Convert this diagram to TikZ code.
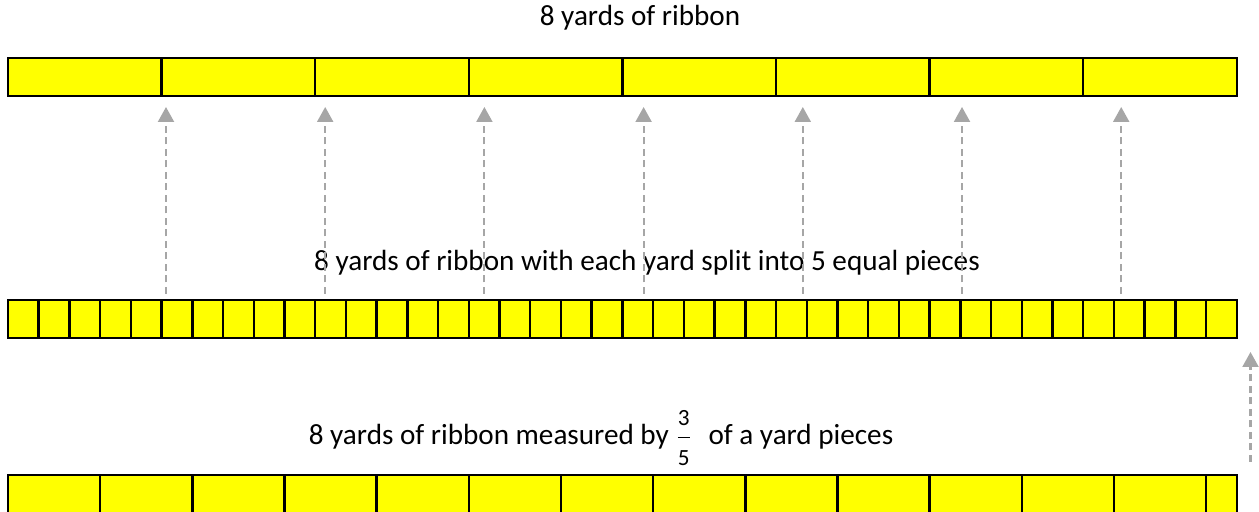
\documentclass[tikz,border=0pt]{standalone}
\usepackage{amsmath}
\usepackage{fontspec}
\setmainfont{Carlito}
\usetikzlibrary{arrows.meta,positioning}
\definecolor{ribbon}{HTML}{FFFF00}
\definecolor{arrowgrey}{HTML}{A6A6A6}
\tikzstyle{yard}=[draw=black, fill=ribbon, line width=0.7pt, inner sep=0,
                outer sep=0, minimum height=0.38cm]
\tikzstyle{title}=[inner sep=0, font=\fontsize{8.3}{10}\selectfont]
\tikzstyle{guide}=[draw=arrowgrey, line width=0.6pt,
                dash pattern=on 0.7mm off 0.45mm,
                -{Triangle[width=1.6mm,length=1.5mm]}]
\newcommand{\fracpart}[2]{$\dfrac{\mbox{\fontsize{6.6}{8}\selectfont #1}}%
  {\mbox{\fontsize{6.6}{8}\selectfont #2}}$}

\begin{document}
\begin{tikzpicture}
    \useasboundingbox (0,0) rectangle (12.59,-5.12);
    % whole yards
    \foreach \i in {1,...,8}
      \node[yard, minimum width=1.536cm] (yd\i) at ({0.08+1.536*(\i-0.5)},-0.7675) {};
    % fifths of a yard
    \foreach \i in {1,...,40}
      \node[yard, minimum width=0.3072cm] (fifth\i) at ({0.08+0.3072*(\i-0.5)},-3.19) {};
    % 3/5 yard pieces
    \foreach \i in {1,...,13}
      \node[yard, minimum width=0.9216cm] (piece\i) at ({0.08+0.9216*(\i-0.5)},-4.94) {};
    \node[yard, minimum width=0.3072cm] (piece14) at (12.2144,-4.94) {};
    \node[title] (toptitle) at (6.40,-0.18) {8 yards of ribbon};
    \node[title] (midtitle) at (6.47,-2.63)
      {8 yards of ribbon with each yard split into 5 equal pieces};
    \node[title] (bottitle) at (6.01,-4.38)
      {8 yards of ribbon measured by\,\fracpart{3}{5}\enspace of a yard pieces};
    \foreach \i in {1,...,7} {
      \coordinate (from\i) at ({1.66+1.592*(\i-1)},-2.94);
      \coordinate (to\i) at ({1.66+1.592*(\i-1)},-1.07);
      \draw[guide] (from\i) -- (to\i);
    }
    \coordinate (from8) at (12.505,-4.62);
    \coordinate (to8) at (12.505,-3.52);
    \draw[guide] (from8) -- (to8);
\end{tikzpicture}
\end{document}
